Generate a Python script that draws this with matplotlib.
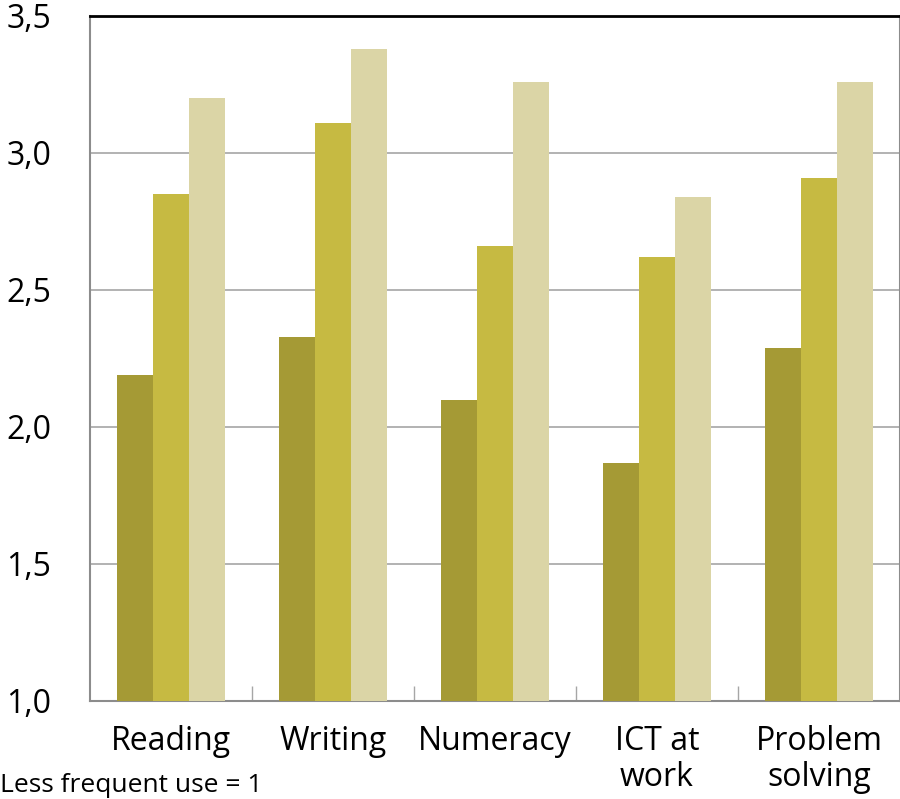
import matplotlib.pyplot as plt
import numpy as np

categories = ["Reading", "Writing", "Numeracy", "ICT at\nwork", "Problem\nsolving"]
low_use = [2.19, 2.33, 2.10, 1.87, 2.29]
mid_use = [2.85, 3.11, 2.66, 2.62, 2.91]
high_use = [3.20, 3.38, 3.26, 2.84, 3.26]
y_ticks = [1.0, 1.5, 2.0, 2.5, 3.0, 3.5]

plt.rcParams['font.family'] = ['Open Sans', 'DejaVu Sans']

fig = plt.figure(figsize=(9, 7.99), dpi=100)
ax = fig.add_axes([0.1, 0.1227, 0.9, 0.8573])

x = np.arange(len(categories))
w = 0.222
colors = ['#A59A35', '#C6BA42', '#DBD5A6']
for i, (vals, c) in enumerate(zip([low_use, mid_use, high_use], colors)):
    ax.bar(x + (i - 1) * w, [v - 1.0 for v in vals], w, bottom=1.0, color=c, zorder=3)

ax.set_xlim(-0.5, len(categories) - 0.5)
ax.set_ylim(1.0, 3.5)
ax.set_yticks(y_ticks)
ax.set_yticklabels([f"{t:.1f}".replace('.', ',') for t in y_ticks], fontsize=23)
ax.tick_params(axis='y', length=0, pad=28)
ax.yaxis.grid(True, color='#A6A6A6', linewidth=1.2, zorder=0)

# group labels and boundary ticks
ax.set_xticks(x)
ax.set_xticklabels(categories, fontsize=23, linespacing=1.15, va='top')
ax.tick_params(axis='x', length=0, pad=17)
ax.set_xticks(np.arange(0.5, len(categories) - 0.5), minor=True)
ax.tick_params(axis='x', which='minor', direction='in', length=11, color='#A6A6A6', width=1)

for side in ['left', 'bottom', 'right']:
    ax.spines[side].set_color('#8C8C8C')
    ax.spines[side].set_linewidth(1.5)
ax.spines['top'].set_color('black')
ax.spines['top'].set_linewidth(2)

fig.text(0.0, 0.001, "Less frequent use = 1", fontsize=19, ha='left', va='bottom')

plt.savefig('out.png', dpi=100)
